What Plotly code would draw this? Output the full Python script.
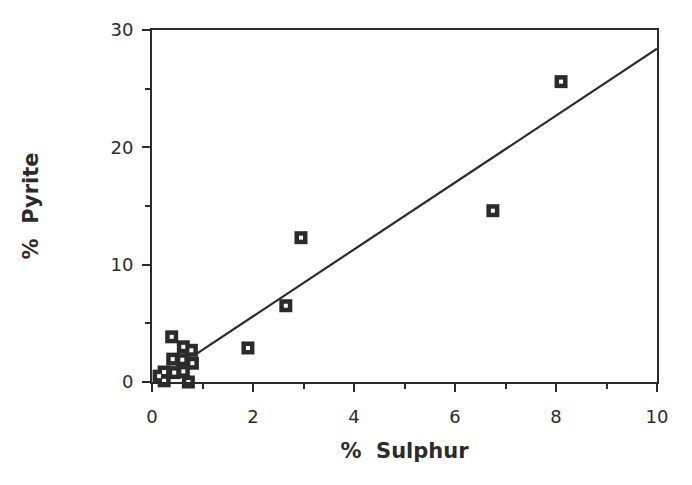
import plotly.graph_objects as go

sulphur = [8.1, 6.75, 2.95, 2.65, 1.9, 0.39, 0.62, 0.78, 0.41, 0.6, 0.80, 0.44, 0.62, 0.24, 0.24, 0.14, 0.72]
pyrite = [25.6, 14.6, 12.3, 6.5, 2.9, 3.85, 3.0, 2.7, 1.95, 1.9, 1.6, 0.8, 0.9, 0.85, 0.1, 0.5, 0.0]
fit_x = [0.88, 10.0]
fit_y = [2.4, 28.4]
x_ticks = [0, 2, 4, 6, 8, 10]
y_ticks = [0, 10, 20, 30]

ink = "#2b2b2b"
fnt = "DejaVu Sans"
fig = go.Figure()
fig.add_trace(go.Scatter(x=fit_x, y=fit_y, mode="lines", line=dict(color=ink, width=2.2), showlegend=False))
fig.add_trace(go.Scatter(x=sulphur, y=pyrite, mode="markers", cliponaxis=False,
                         marker=dict(symbol="square", size=13, color=ink, line=dict(width=0)), showlegend=False))
fig.add_trace(go.Scatter(x=sulphur, y=pyrite, mode="markers", cliponaxis=False,
                         marker=dict(symbol="square", size=4, color="white", line=dict(width=0)), showlegend=False))

axis_common = dict(showgrid=False, zeroline=False, showline=True, linecolor=ink, linewidth=2,
                   mirror=True, ticks="outside", tickcolor=ink, tickwidth=2, ticklen=8,
                   tickfont=dict(family=fnt, size=18, color=ink))
fig.update_xaxes(range=[0, 10], tickvals=x_ticks, ticktext=[str(v) for v in x_ticks],
                 ticklabelstandoff=9,
                 minor=dict(ticks="outside", ticklen=5, tickwidth=2, tickcolor=ink, dtick=1, tick0=0),
                 title=dict(text="<b>%  Sulphur</b>", font=dict(family=fnt, size=21, color=ink), standoff=18),
                 **axis_common)
fig.update_yaxes(range=[0, 30], tickvals=y_ticks, ticktext=[str(v) for v in y_ticks],
                 ticklabelstandoff=5,
                 minor=dict(ticks="outside", ticklen=5, tickwidth=2, tickcolor=ink, dtick=5, tick0=0),
                 title=dict(text="<b>%  Pyrite</b>", font=dict(family=fnt, size=21, color=ink), standoff=66),
                 **axis_common)
fig.update_layout(width=692, height=485, margin=dict(l=152, r=35, t=30, b=103),
                  plot_bgcolor="white", paper_bgcolor="white")
fig.write_html("out.html")
